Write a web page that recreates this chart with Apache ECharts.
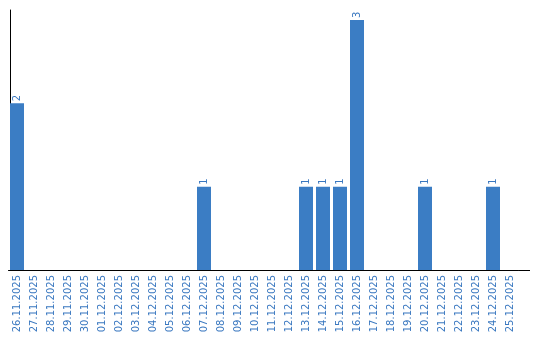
<!DOCTYPE html>
<html>
<head>
<meta charset="utf-8">
<script src="https://cdn.jsdelivr.net/npm/echarts@6/dist/echarts.min.js"></script>
<style>html,body{margin:0;padding:0;background:#fff}#c{width:540px;height:340px}</style>
</head>
<body>
<div id="c"></div>
<script>
const categories = ["26.11.2025","27.11.2025","28.11.2025","29.11.2025","30.11.2025","01.12.2025","02.12.2025","03.12.2025","04.12.2025","05.12.2025","06.12.2025","07.12.2025","08.12.2025","09.12.2025","10.12.2025","11.12.2025","12.12.2025","13.12.2025","14.12.2025","15.12.2025","16.12.2025","17.12.2025","18.12.2025","19.12.2025","20.12.2025","21.12.2025","22.12.2025","23.12.2025","24.12.2025","25.12.2025"];
const values = [2,0,0,0,0,0,0,0,0,0,0,1,0,0,0,0,0,1,1,1,3,0,0,0,1,0,0,0,1,0];
const yMax = 3.12;

const chart = echarts.init(document.getElementById('c'), null, {renderer:'canvas'});
const blue = '#3b7dc4';
chart.setOption({
  animation:false,
  grid:{left:8.5, top:10, width:510, height:260, containLabel:false},
  xAxis:{
    type:'category', data:categories, boundaryGap:true,
    axisLine:{show:true, lineStyle:{color:'#000', width:1}},
    axisTick:{show:false},
    axisLabel:{rotate:90, margin:5, color:'#3a78c0', fontFamily:'DejaVu Sans', fontSize:10, interval:0}
  },
  yAxis:{
    type:'value', min:0, max:yMax, offset:-1.5,
    axisLine:{show:true, lineStyle:{color:'#000', width:1}},
    axisTick:{show:false}, axisLabel:{show:false}, splitLine:{show:false}
  },
  series:[{
    type:'bar', data:values, barWidth:14,
    itemStyle:{color:blue},
    label:{show:true, position:'top', rotate:90, align:'left', verticalAlign:'middle', distance:2,
      color:'#3a78c0', fontFamily:'DejaVu Sans', fontSize:10,
      formatter:p => p.value ? String(p.value) : ''}
  }],
  graphic:[{type:'line', shape:{x1:518.5, y1:270.5, x2:530, y2:270.5}, style:{stroke:'#000', lineWidth:1}}]
});
</script>
</body>
</html>
